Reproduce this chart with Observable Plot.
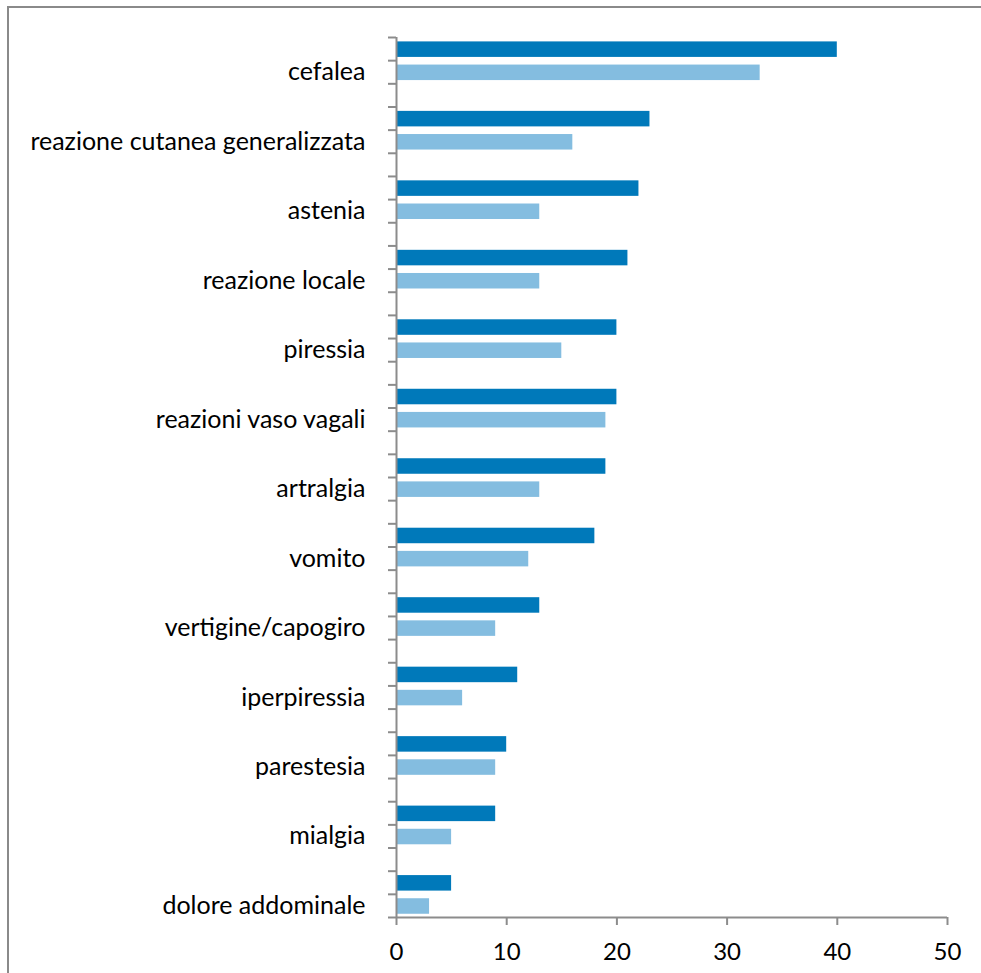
<!DOCTYPE html>
<html><head><meta charset="utf-8">
<script src="https://cdn.jsdelivr.net/npm/d3@7"></script>
<script src="https://cdn.jsdelivr.net/npm/@observablehq/plot@0.6"></script>
<style>
body{margin:0;background:#fff;}
#wrap{position:relative;width:981px;height:973px;overflow:hidden;}
#frame{position:absolute;left:7px;top:6px;width:1000px;height:1000px;border-left:2px solid #8a8a8a;border-top:2px solid #8a8a8a;pointer-events:none;}
</style></head><body><div id="wrap"><div id="frame"></div></div>
<script>
const categories = ["cefalea","reazione cutanea generalizzata","astenia","reazione locale","piressia","reazioni vaso vagali","artralgia","vomito","vertigine/capogiro","iperpiressia","parestesia","mialgia","dolore addominale"];
const darkValues = [40,23,22,21,20,20,19,18,13,11,10,9,5];
const lightValues = [33,16,13,13,15,19,13,12,9,6,9,5,3];
const xTicks = [0,10,20,30,40,50];

const rows = [];
categories.forEach((c,i)=>{
  rows.push({category:c, series:"A", value:darkValues[i], row:3*i});
  rows.push({category:c, series:"B", value:lightValues[i], row:3*i+1});
});
const nRows = categories.length*3 - 1;
const axisGray = "#8c8c8c";

const chart = Plot.plot({
  width:981, height:973,
  marginLeft:396, marginRight:34, marginTop:37, marginBottom:56,
  style:{fontFamily:"Lato", fontSize:"23px", color:"#000", background:"transparent"},
  x:{domain:[0,50], label:null},
  y:{domain:[0,nRows], reverse:true, label:null},
  color:{domain:["A","B"], range:["#0079BA","#84BDE0"]},
  marks:[
    Plot.rect(rows, {x1:()=>0, x2:"value", y1:d=>d.row+0.19, y2:d=>d.row+0.86, fill:"series"}),
    Plot.axisY(d3.range(0,nRows+1), {tickSize:8, tickFormat:()=>"", stroke:axisGray, strokeWidth:2, label:null}),
    Plot.ruleX([0], {stroke:axisGray, strokeWidth:2}),
    Plot.ruleY([nRows], {stroke:axisGray, strokeWidth:2}),
    Plot.text(categories, {frameAnchor:"left", y:(d,i)=>3*i+1.5, text:d=>d, textAnchor:"end", dx:-31, fill:"#000", fontSize:25}),
    Plot.axisX(xTicks, {tickSize:8, tickPadding:17, stroke:axisGray, strokeWidth:2, fill:"#000", label:null, fontSize:24})
  ]
});
document.getElementById("wrap").prepend(chart);
</script>
</body></html>
